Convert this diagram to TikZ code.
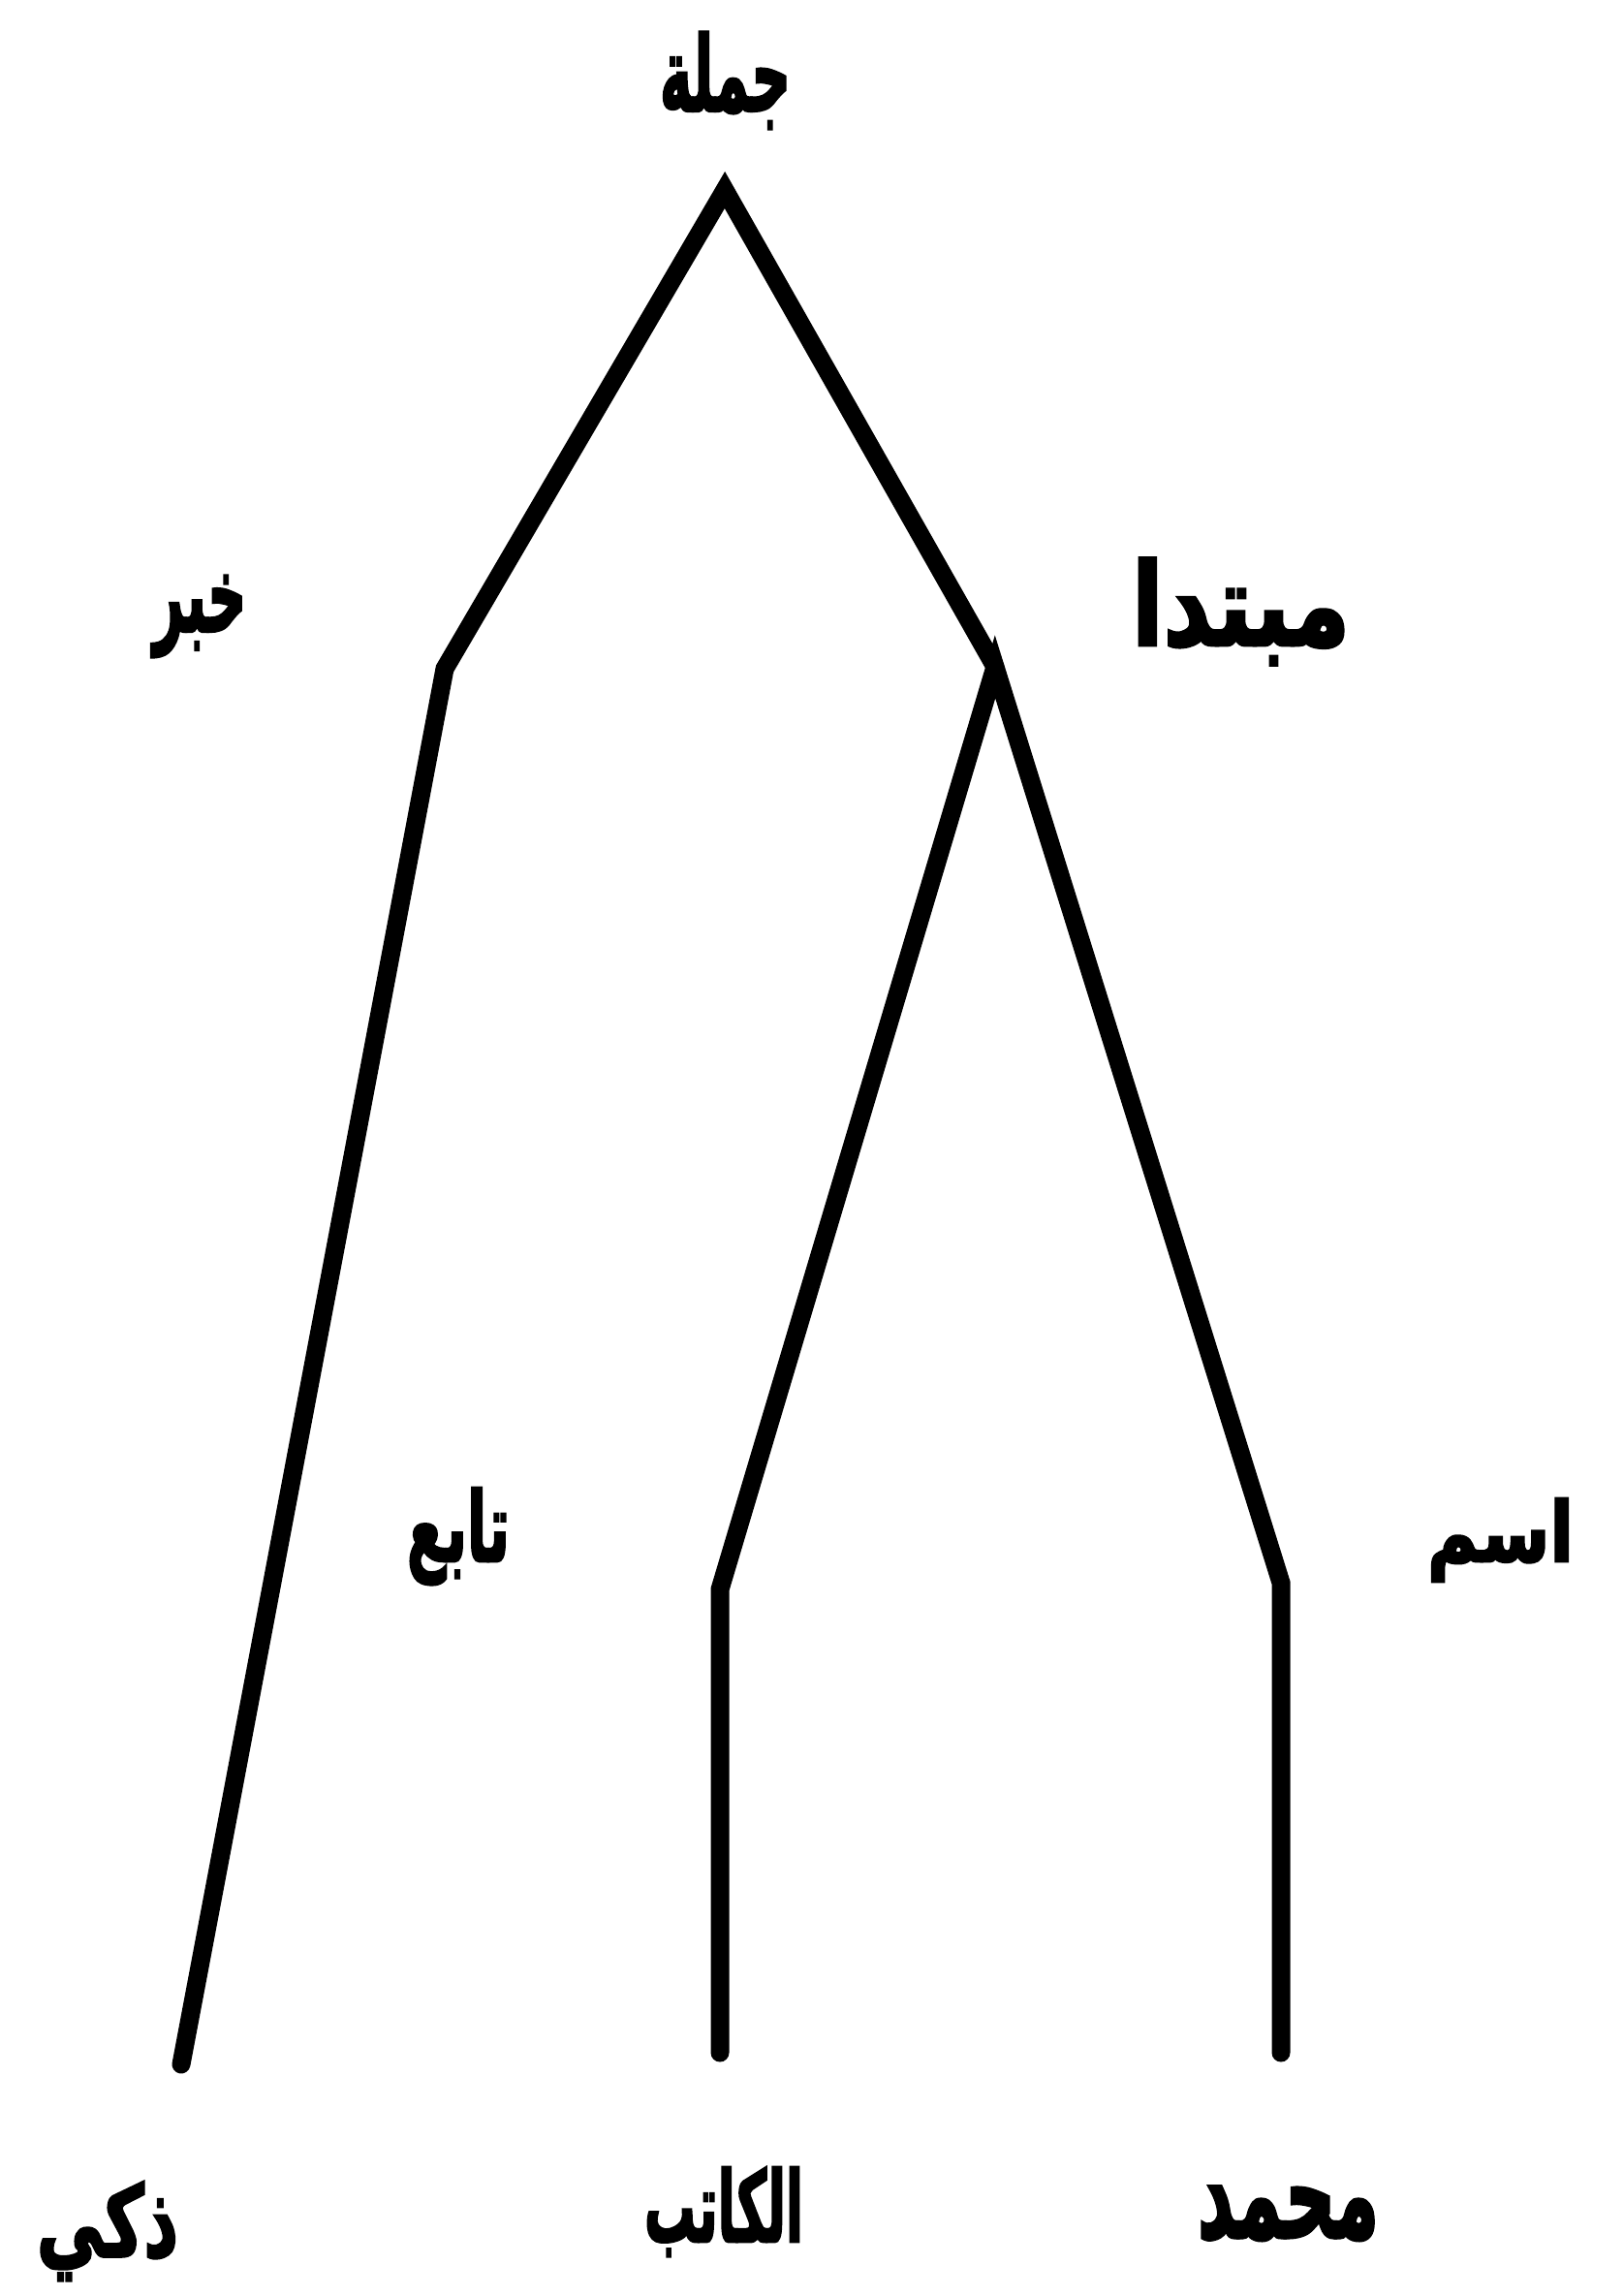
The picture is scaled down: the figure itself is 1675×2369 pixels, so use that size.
\documentclass[tikz,border=0pt]{standalone}
\usepackage{fontspec}
\usepackage{graphicx}
\TeXXeTstate=1
\newfontfamily\arabicfont[Script=Arabic,BoldFeatures={FakeBold=3}]{DejaVu Sans}
\newcommand{\arlabel}[3]{\resizebox*{#1}{#2}{\arabicfont\bfseries\beginR #3\endR}}
\tikzset{
  lbl/.style={inner sep=0pt, outer sep=0pt, anchor=north west},
  branch/.style={line width=19pt, line join=miter, line cap=round}
}
\begin{document}
\begin{tikzpicture}[x=1pt,y=-1pt]
\useasboundingbox[fill=white] (0,0) rectangle (1675,2369);
% labels (top-left corner, width, height as in the reference)
\node[lbl] (jumla)    at (681,33)   {\arlabel{135pt}{100pt}{جملة}};
\node[lbl] (khabar)   at (158,594)  {\arlabel{96pt}{84pt}{خبر}};
\node[lbl] (mubtada)  at (1168,576) {\arlabel{225pt}{110pt}{مبتدا}};
\node[lbl] (tabi)     at (420,1535) {\arlabel{106pt}{100pt}{تابع}};
\node[lbl] (ism)      at (1473,1546){\arlabel{151pt}{86pt}{اسم}};
\node[lbl] (dhaki)    at (38,2251)  {\arlabel{146pt}{102pt}{ذكي}};
\node[lbl] (katib)    at (665,2236) {\arlabel{164pt}{92pt}{الكاتب}};
\node[lbl] (muhammad) at (1236,2256){\arlabel{187pt}{56pt}{محمد}};
% tree coordinates
\coordinate (apex) at (748,196);
\coordinate (bl) at (459,690);
\coordinate (el) at (187,2130);
\coordinate (jr) at (1027,688);
\coordinate (bm) at (743,1640);
\coordinate (em) at (743,2118);
\coordinate (br) at (1322,1633);
\coordinate (er) at (1322,2118);
% connectors
\draw[branch] (el) -- (bl) -- (apex) -- (jr);
\draw[branch] (em) -- (bm) -- (jr) -- (br) -- (er);
\end{tikzpicture}
\end{document}
